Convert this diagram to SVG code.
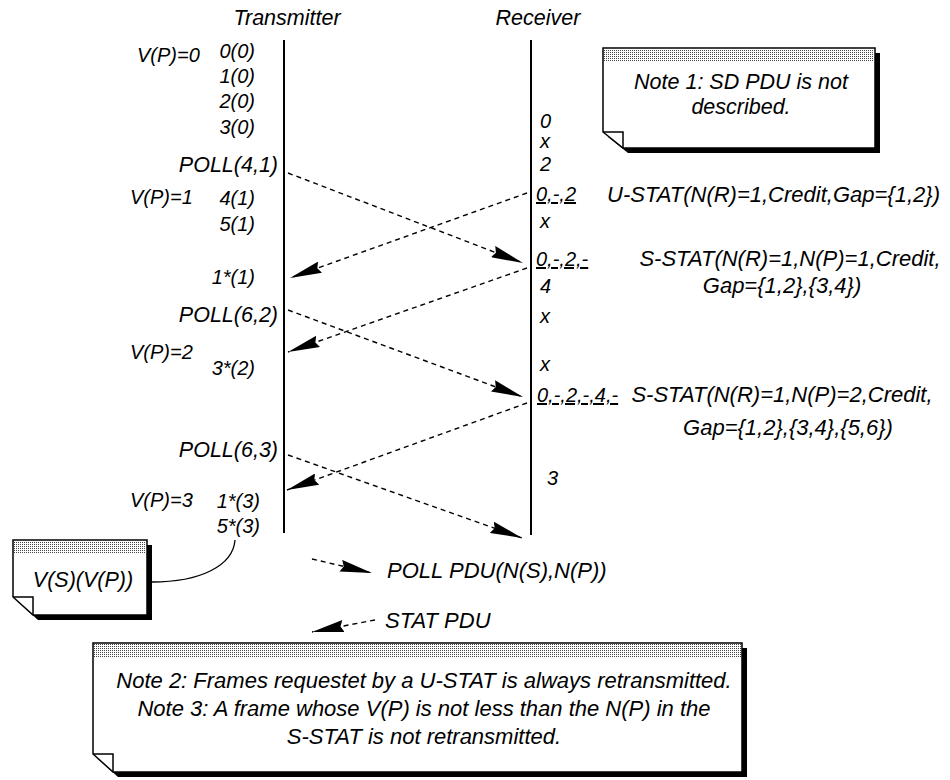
<svg xmlns="http://www.w3.org/2000/svg" width="950" height="780" viewBox="0 0 950 780">
<defs>
<pattern id="dots" width="2" height="2" patternUnits="userSpaceOnUse"><rect width="2" height="2" fill="#fff"/><rect width="1" height="1" fill="#444"/></pattern>
<marker id="ah" viewBox="0 0 32 12" refX="32" refY="6" markerWidth="32" markerHeight="12" markerUnits="userSpaceOnUse" orient="auto"><path d="M0,0 L32,6 L0,12 L3,6 Z" fill="#000"/></marker>
</defs>
<style>
text { font-family: "Liberation Sans", Arial, Helvetica, sans-serif; font-style: italic; font-size: 20px; fill: #000; }
.t { font-size: 21.5px; text-anchor: middle; }
.e { text-anchor: end; }
.m { text-anchor: middle; }
.p { font-size: 21.5px; text-anchor: end; }
.r { font-size: 22px; }
.n { font-size: 21.5px; text-anchor: middle; }
.n2 { font-size: 22px; text-anchor: middle; }
.u { text-decoration: underline; }
.c { stroke: #000; stroke-width: 1.4; stroke-dasharray: 5 4; fill: none; marker-end: url(#ah); }
.life { stroke: #000; stroke-width: 2; }
.sh { fill: #000; }
.pg { fill: #fff; stroke: #000; stroke-width: 1.5; }
.fold { fill: none; stroke: #000; stroke-width: 1.5; }
</style>
<rect width="950" height="780" fill="#fff"/>

<g id="transmitter">
<text class="t" x="287" y="25">Transmitter</text>
<line class="life" x1="284" y1="40" x2="284" y2="533"/>
<text x="137" y="62">V(P)=0</text>
<text class="e" x="255" y="58">0(0)</text>
<text class="e" x="255" y="83">1(0)</text>
<text class="e" x="255" y="108">2(0)</text>
<text class="e" x="255" y="134">3(0)</text>
<text class="p" x="278" y="172">POLL(4,1)</text>
<text x="130" y="204">V(P)=1</text>
<text class="e" x="255" y="205">4(1)</text>
<text class="e" x="255" y="231">5(1)</text>
<text class="e" x="255" y="284">1*(1)</text>
<text class="p" x="278" y="322">POLL(6,2)</text>
<text x="130" y="359">V(P)=2</text>
<text class="e" x="255" y="375">3*(2)</text>
<text class="p" x="278" y="457">POLL(6,3)</text>
<text x="130" y="507">V(P)=3</text>
<text class="e" x="260" y="508">1*(3)</text>
<text class="e" x="260" y="533">5*(3)</text>
</g>

<g id="receiver">
<text class="t" x="538" y="25">Receiver</text>
<line class="life" x1="531" y1="40" x2="531" y2="535"/>
<text x="540" y="128">0</text>
<text x="540" y="148">x</text>
<text x="540" y="171">2</text>
<text class="u" x="536" y="201">0,-,2</text>
<text x="540" y="228">x</text>
<text class="u" x="536" y="266">0,-,2,-</text>
<text x="540" y="293">4</text>
<text x="540" y="323">x</text>
<text x="540" y="371">x</text>
<text class="u" x="537" y="402">0,-,2,-,4,-</text>
<text x="547" y="485">3</text>
</g>

<g id="stat-labels">
<text class="r" x="607" y="202">U-STAT(N(R)=1,Credit,Gap={1,2})</text>
<text class="r m" x="790" y="266">S-STAT(N(R)=1,N(P)=1,Credit,</text>
<text class="r m" x="782" y="293">Gap={1,2},{3,4})</text>
<text class="r m" x="782" y="402">S-STAT(N(R)=1,N(P)=2,Credit,</text>
<text class="r m" x="788" y="435">Gap={1,2},{3,4},{5,6})</text>
</g>

<g id="note1">
<path class="sh" d="M608,53 H880 V153 H628 L608,137 Z"/>
<path class="pg" d="M603,48 H875 V148 H623 L603,132 Z"/>
<rect x="604" y="49" width="270" height="13" fill="url(#dots)"/>
<path class="fold" d="M603,132 H623 V148"/>
<text class="n" x="741" y="89">Note 1: SD PDU is not</text>
<text class="n" x="741" y="114">described.</text>
</g>

<g id="note-vs">
<path class="sh" d="M18,545 H152 V620 H38 L18,602 Z"/>
<path class="pg" d="M13,540 H147 V615 H33 L13,597 Z"/>
<rect x="14" y="541" width="132" height="13" fill="url(#dots)"/>
<path class="fold" d="M13,597 H33 V615"/>
<text class="n" x="83" y="587">V(S)(V(P))</text>
</g>

<g id="note2">
<path class="sh" d="M98,648 H747 V777 H118 L98,759 Z"/>
<path class="pg" d="M93,643 H742 V772 H113 L93,754 Z"/>
<rect x="94" y="644" width="647" height="13" fill="url(#dots)"/>
<path class="fold" d="M93,754 H113 V772"/>
<text class="n2" x="424" y="688">Note 2: Frames requestet by a U-STAT is always retransmitted.</text>
<text class="n2" x="424" y="716">Note 3: A frame whose V(P) is not less than the N(P) in the</text>
<text class="n2" x="424" y="744">S-STAT is not retransmitted.</text>
</g>

<g id="legend">
<text class="r" x="387" y="578">POLL PDU(N(S),N(P))</text>
<text class="r" x="385" y="628">STAT PDU</text>
</g>

<g id="connectors">
<line class="c" x1="288" y1="173" x2="523" y2="263"/>
<line class="c" x1="527" y1="193" x2="290" y2="278"/>
<line class="c" x1="288" y1="310" x2="523" y2="397"/>
<line class="c" x1="527" y1="268" x2="288" y2="352"/>
<line class="c" x1="288" y1="455" x2="522" y2="538"/>
<line class="c" x1="527" y1="403" x2="287" y2="490"/>
<line class="c" x1="312" y1="559" x2="372" y2="573"/>
<line class="c" x1="375" y1="620" x2="312" y2="632"/>
<path d="M152,582 C200,582 233,566 235,540" fill="none" stroke="#000" stroke-width="1.3"/>
</g>
</svg>
